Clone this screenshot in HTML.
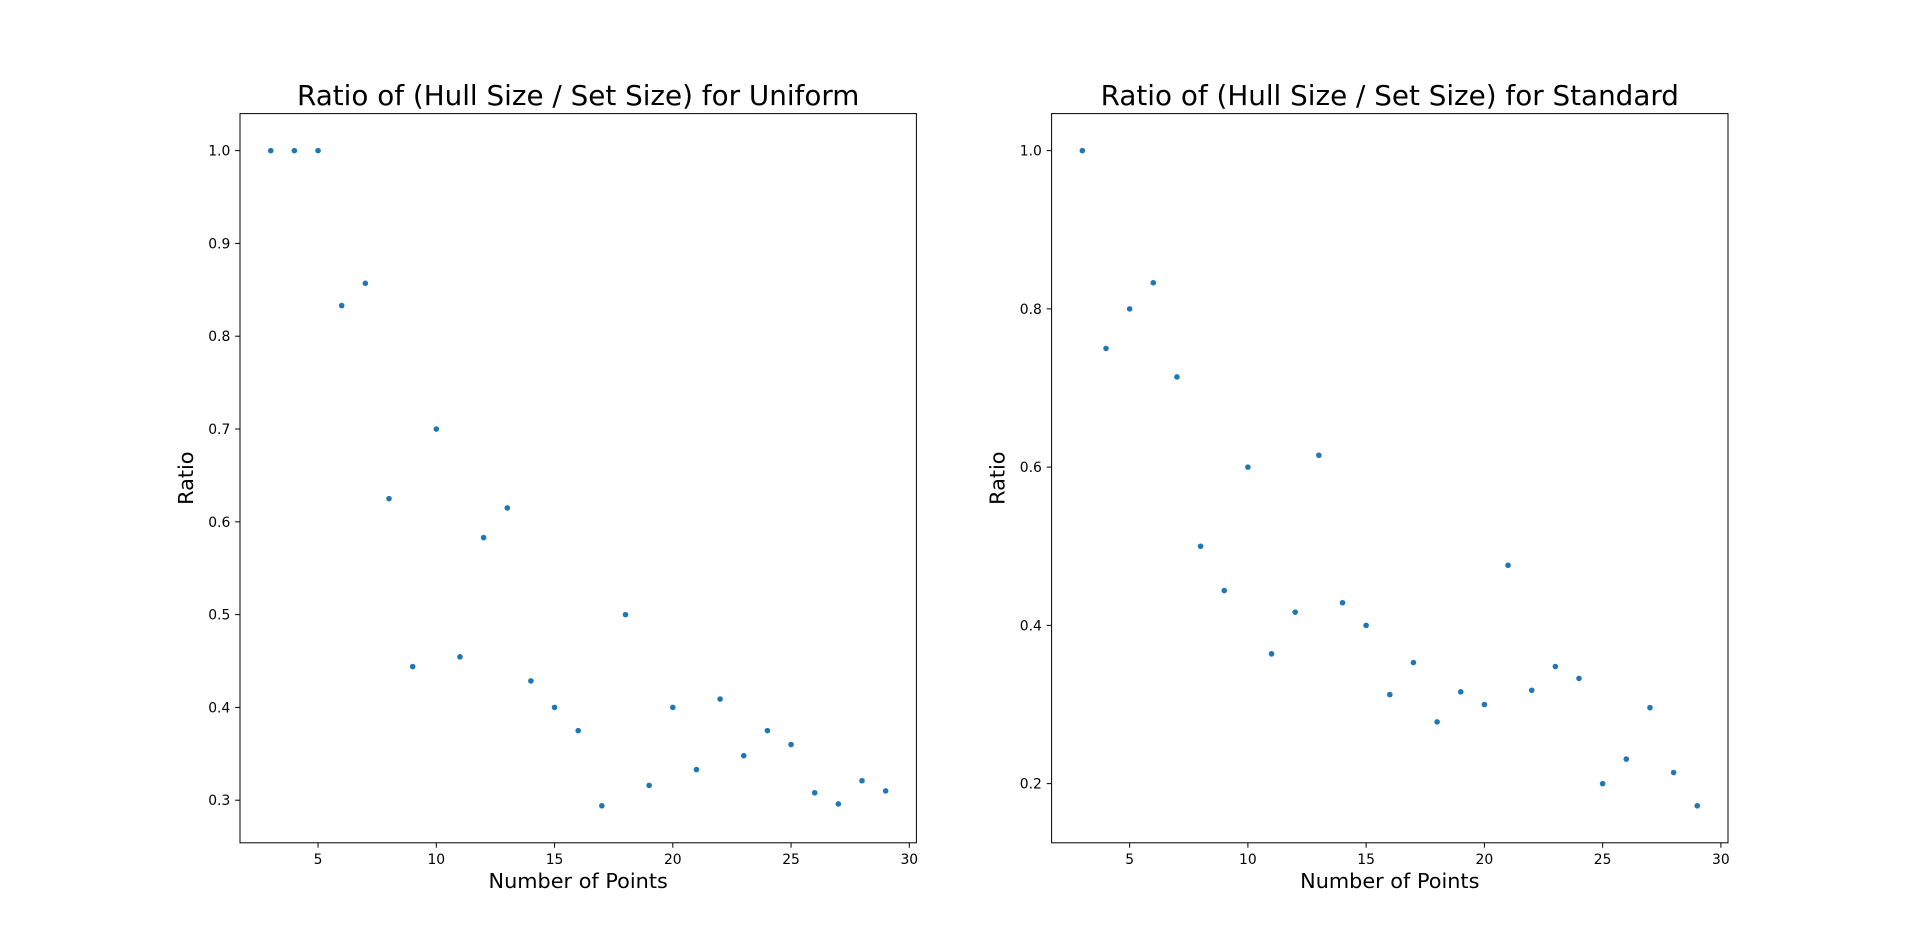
<!DOCTYPE html>
<html><head><meta charset="utf-8"><style>
html,body{margin:0;padding:0;background:#fff;}
svg{display:block;font-family:"DejaVu Sans","Liberation Sans",sans-serif;}
</style></head><body>
<svg id="fig" width="1920" height="947" xmlns="http://www.w3.org/2000/svg"></svg>
<script>
const xValues=[3,4,5,6,7,8,9,10,11,12,13,14,15,16,17,18,19,20,21,22,23,24,25,26,27,28,29];
const uniformRatios=[1,1,1,0.833,0.857,0.625,0.444,0.7,0.4545,0.583,0.615,0.4286,0.4,0.375,0.294,0.5,0.316,0.4,0.333,0.409,0.348,0.375,0.36,0.308,0.296,0.321,0.310];
const standardRatios=[1,0.75,0.8,0.833,0.714,0.5,0.444,0.6,0.364,0.4167,0.615,0.4286,0.4,0.3125,0.353,0.278,0.316,0.3,0.476,0.318,0.348,0.333,0.2,0.231,0.296,0.214,0.172];
const xTicks=[5,10,15,20,25,30];
const uniformYTicks=[0.3,0.4,0.5,0.6,0.7,0.8,0.9,1.0];
const standardYTicks=[0.2,0.4,0.6,0.8,1.0];
const NS="http://www.w3.org/2000/svg";
const svg=document.getElementById('fig');
function el(tag,attrs,parent){const e=document.createElementNS(NS,tag);for(const k in attrs)e.setAttribute(k,attrs[k]);(parent||svg).appendChild(e);return e;}
function panel(x0,x1,ys,yTicks,title,key){
  const top=113.6,bot=842.8;
  const xmin=Math.min(...xValues),xmax=Math.max(...xValues),xm=(xmax-xmin)*0.05;
  const ymin=Math.min(...ys),ymax=Math.max(...ys),ym=(ymax-ymin)*0.0565;
  const X=v=>x0+(v-(xmin-xm))/((xmax+xm)-(xmin-xm))*(x1-x0);
  const Y=v=>bot-(v-(ymin-ym))/((ymax+ym)-(ymin-ym))*(bot-top);
  const g=el('g',{});
  
  
  const f=el('rect',{x:x0,y:top,width:x1-x0,height:bot-top,fill:'none',stroke:'#000','stroke-width':1},g);
  
  
  xTicks.forEach(t=>{const x=X(t);
    el('line',{x1:x,x2:x,y1:bot,y2:bot+4.9,stroke:'#000','stroke-width':1},g);
    const tx=el('text',{x:x,y:bot+21,'text-anchor':'middle','font-size':13.9},g);tx.textContent=t;
    
    });
  yTicks.forEach(t=>{const y=Y(t);
    el('line',{x1:x0-4.9,x2:x0,y1:y,y2:y,stroke:'#000','stroke-width':1},g);
    const tx=el('text',{x:x0-9.7,y:y+5,'text-anchor':'end','font-size':13.9},g);tx.textContent=t.toFixed(1);
    
    });
  xValues.forEach((v,i)=>{const c=el('circle',{cx:X(v),cy:Y(ys[i]),r:2.8,fill:'#1f77b4'},g);
    
    });
  const tt=el('text',{x:(x0+x1)/2,y:105,'text-anchor':'middle','font-size':27.8},g);tt.textContent=title;
  
  
  const xl=el('text',{x:(x0+x1)/2,y:888,'text-anchor':'middle','font-size':20.8},g);xl.textContent='Number of Points';
  
  
  const cy=(top+bot)/2,cx=x0-47;
  const yl=el('text',{x:cx,y:cy,'text-anchor':'middle','font-size':20.8,transform:`rotate(-90 ${cx} ${cy})`},g);yl.textContent='Ratio';
  
  
}
panel(240,916.4,uniformRatios,uniformYTicks,'Ratio of (Hull Size / Set Size) for Uniform','uniform');
panel(1051.6,1728,standardRatios,standardYTicks,'Ratio of (Hull Size / Set Size) for Standard','standard');
</script>
</body></html>
